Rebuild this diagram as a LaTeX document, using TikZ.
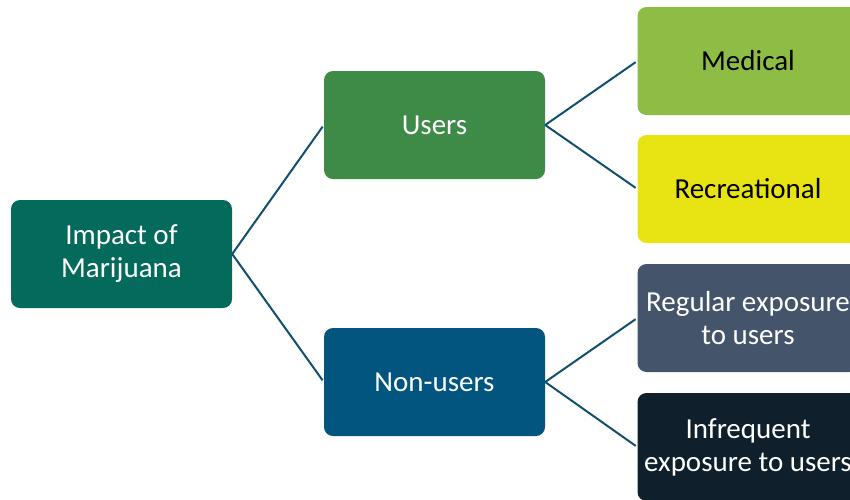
\documentclass[tikz,border=0pt]{standalone}
\usepackage{fontspec}
\setmainfont{Carlito}
\definecolor{cimp}{HTML}{046A5B}
\definecolor{cusers}{HTML}{3E8B47}
\definecolor{cnon}{HTML}{02557F}
\definecolor{cmed}{HTML}{8DBD44}
\definecolor{crec}{HTML}{E8E413}
\definecolor{creg}{HTML}{44546A}
\definecolor{cinf}{HTML}{0F1F2B}
\definecolor{cline}{HTML}{124E6E}
\tikzset{
  box/.style={rectangle, rounded corners=9pt, minimum width=221pt, minimum height=108pt,
    inner sep=0pt, align=center, font=\fontsize{29}{33}\selectfont, text=white},
  conn/.style={draw=cline, line width=2pt, shorten >=2pt}
}
\begin{document}
\begin{tikzpicture}[x=1pt,y=-1pt]
\useasboundingbox (0,0) rectangle (850,499);
\clip (0,0) rectangle (850,499);
\node[box, fill=cimp] (imp) at (121.5,254) {Impact of\\Marijuana};
\node[box, fill=cusers] (users) at (434.5,125) {Users};
\node[box, fill=cnon] (non) at (434.5,382) {Non-users};
\node[box, fill=cmed, text=black] (med) at (748,61) {Medical};
\node[box, fill=crec, text=black] (rec) at (748,189) {Recreational};
\node[box, fill=creg] (reg) at (748,318) {Regular exposure\\to users};
\node[box, fill=cinf] (inf) at (748,447) {Infrequent\\exposure to users};
\draw[conn] (imp.east) -- (users.west);
\draw[conn] (imp.east) -- (non.west);
\draw[conn] (users.east) -- (med.west);
\draw[conn] (users.east) -- (rec.west);
\draw[conn] (non.east) -- (reg.west);
\draw[conn] (non.east) -- (inf.west);
\end{tikzpicture}
\end{document}
